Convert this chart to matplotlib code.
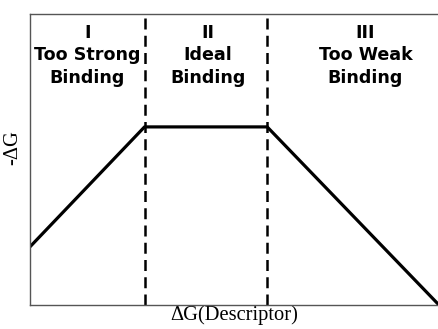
import matplotlib
matplotlib.use("Agg")
from matplotlib import pyplot as plt

# volcano-style trend (axis fraction units)
x_vals = [0.0, 0.28, 0.58, 1.0]
y_vals = [0.20, 0.612, 0.612, 0.0]
boundaries = [0.28, 0.58]
region_labels = ["I\nToo Strong\nBinding", "II\nIdeal\nBinding", "III\nToo Weak\nBinding"]
region_centers = [0.14, 0.435, 0.82]

fig = plt.figure(figsize=(4.39, 3.29), dpi=100)
ax = fig.add_axes([30 / 439, 24 / 329, 409 / 439, 291 / 329])

ax.plot(x_vals, y_vals, color="black", lw=2.3, solid_capstyle="butt")
for b in boundaries:
    ax.axvline(b, color="black", lw=1.8, ls=(0, (4.4, 2.5)))

for cx, lab in zip(region_centers, region_labels):
    ax.text(cx, 0.965, lab, ha="center", va="top", fontsize=12.6,
            fontweight="bold", family="DejaVu Sans", linespacing=1.3)

ax.set_xlim(0, 1)
ax.set_ylim(0, 1)
ax.set_xticks([])
ax.set_yticks([])
ax.spines["right"].set_visible(False)
for s in ["left", "bottom", "top"]:
    ax.spines[s].set_color("#555555")
    ax.spines[s].set_linewidth(1.0)

ax.set_xlabel("ΔG(Descriptor)", family="Liberation Serif", fontsize=14.8, labelpad=0)
ax.set_ylabel("-ΔG", family="Liberation Serif", fontsize=14.8)
ax.yaxis.set_label_coords(-0.02, 0.54)

fig.savefig("out.png", dpi=100)
